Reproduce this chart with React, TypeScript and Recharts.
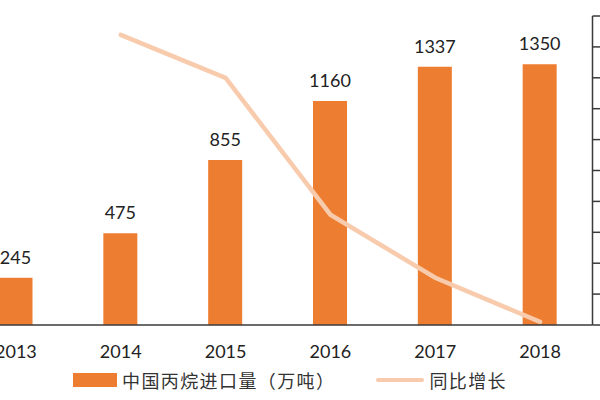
import React from 'react';
import {
  ComposedChart,
  Bar,
  Line,
  XAxis,
  YAxis,
  Legend,
  LabelList,
} from 'recharts';

const years = ['2013', '2014', '2015', '2016', '2017', '2018'];
const importVolume = [245, 475, 855, 1160, 1337, 1350];
const yoyGrowth = [null, 0.939, 0.8, 0.357, 0.153, 0.01];
const rightTicks = [0, 0.1, 0.2, 0.3, 0.4, 0.5, 0.6, 0.7, 0.8, 0.9, 1];

const BAR_NAME = '中国丙烷进口量（万吨）';
const LINE_NAME = '同比增长';

const data = years.map((year, i) => ({
  year,
  volume: importVolume[i],
  growth: yoyGrowth[i],
}));

const NUM_FONT = 'Lato, "Open Sans", sans-serif';
const CJK_FONT = '"Noto Sans CJK SC", "Noto Sans", sans-serif';

// legend drawn by hand so the swatch sizes match the original
const renderLegend = () => (
  <div
    style={{
      display: 'flex',
      alignItems: 'center',
      height: 24,
      paddingLeft: 73,
      fontFamily: CJK_FONT,
      fontSize: 18,
      letterSpacing: 1.4,
      color: '#333',
    }}
  >
    <span style={{ width: 44, height: 14, background: '#ED7D31', marginRight: 5 }} />
    <span>{BAR_NAME}</span>
    <span
      style={{
        width: 48,
        height: 4,
        borderRadius: 2,
        background: '#F8CBAD',
        marginLeft: 41,
        marginRight: 5,
      }}
    />
    <span>{LINE_NAME}</span>
  </div>
);

export default function App() {
  return (
    <div
      style={{
        position: 'fixed',
        top: 0,
        left: 0,
        width: 600,
        height: 400,
        overflow: 'hidden',
        background: '#fff',
      }}
    >
      {/* chart is wider than the frame: both value axes' labels sit out of view like the source crop */}
      <ComposedChart
        width={800}
        height={400}
        data={data}
        margin={{ top: 16, right: 57.5, bottom: 8, left: 63.5 }}
        barCategoryGap={0}
        style={{ position: 'absolute', left: -100, top: 0 }}
      >
        <XAxis
          dataKey="year"
          height={43}
          tickLine={false}
          tickSize={6}
          tickMargin={14}
          axisLine={{ stroke: '#3a3a3a', strokeWidth: 1.5 }}
          tick={{ fill: '#222', fontSize: 18, fontFamily: NUM_FONT }}
        />
        <YAxis yAxisId="left" hide domain={[0, 1600]} />
        <YAxis
          yAxisId="right"
          orientation="right"
          width={50}
          domain={[0, 1]}
          ticks={rightTicks}
          tickSize={8}
          tickMargin={8}
          axisLine={{ stroke: '#3a3a3a', strokeWidth: 1.5 }}
          tickLine={{ stroke: '#3a3a3a', strokeWidth: 1.5 }}
          tickFormatter={(v: number) => `${Math.round(v * 100)}%`}
          tick={{ fill: '#222', fontSize: 16, fontFamily: NUM_FONT }}
        />
        <Legend
          verticalAlign="bottom"
          content={renderLegend}
          wrapperStyle={{ left: 100, width: 600, height: 24 }}
        />
        <Bar
          yAxisId="left"
          dataKey="volume"
          name={BAR_NAME}
          fill="#ED7D31"
          barSize={34}
          isAnimationActive={false}
        >
          <LabelList
            dataKey="volume"
            position="top"
            offset={14}
            fill="#222"
            fontSize={18}
            fontFamily={NUM_FONT}
          />
        </Bar>
        <Line
          yAxisId="right"
          dataKey="growth"
          name={LINE_NAME}
          type="linear"
          stroke="#F8CBAD"
          strokeWidth={4.5}
          strokeLinecap="round"
          dot={false}
          activeDot={false}
          isAnimationActive={false}
        />
      </ComposedChart>
    </div>
  );
}
